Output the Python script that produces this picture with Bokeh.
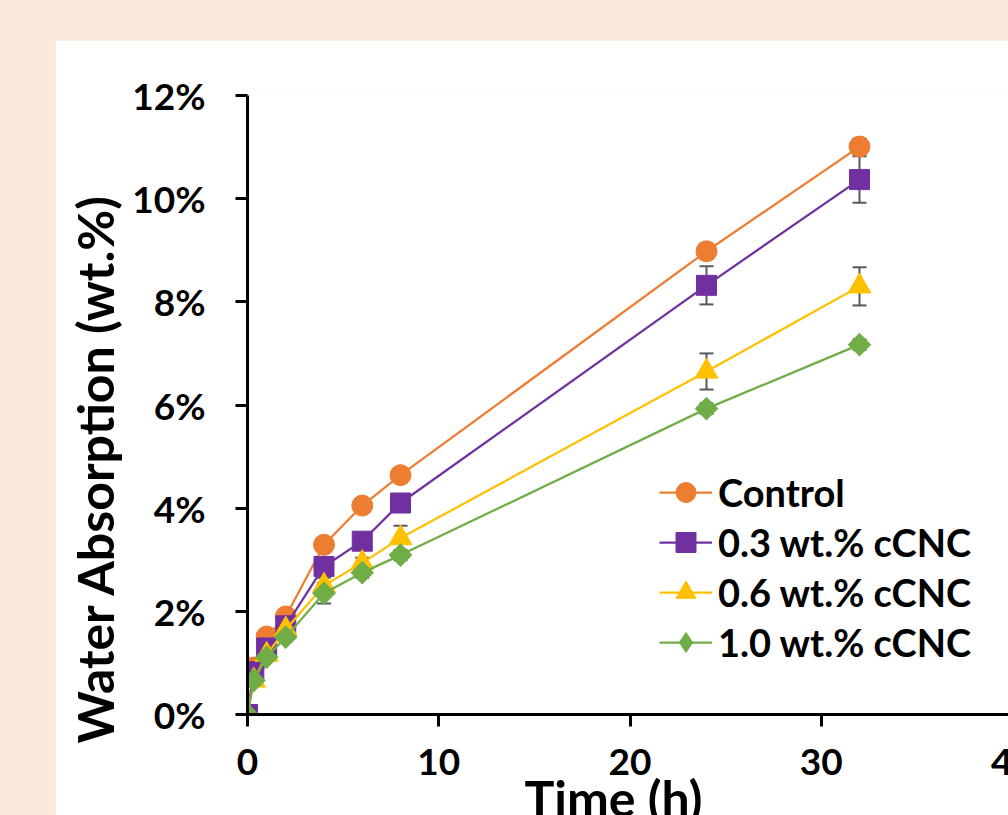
import numpy as np
from bokeh.plotting import figure
from bokeh.models import (Range1d, FixedTicker, PrintfTickFormatter, Legend, LegendItem,
                          Whisker, TeeHead, ColumnDataSource, Title)
from bokeh.layouts import column
from bokeh.embed import file_html
from bokeh.resources import INLINE

# ---------------- data ----------------
time_h = [0, 0.33, 1, 2, 4, 6, 8, 24, 32]
control = [0, 0.91, 1.51, 1.90, 3.29, 4.05, 4.64, 8.98, 11.01]
cnc03 = [0, 0.83, 1.29, 1.72, 2.87, 3.36, 4.10, 8.32, 10.37]
cnc06 = [0, 0.66, 1.16, 1.65, 2.50, 2.94, 3.42, 6.65, 8.30]
cnc10 = [0, 0.66, 1.11, 1.50, 2.35, 2.75, 3.09, 5.93, 7.17]
err_control = [0, 0.05, 0.05, 0.08, 0.10, 0.10, 0.10, 0.15, 0.15]
err_03 = [0, 0.05, 0.05, 0.08, 0.10, 0.10, 0.10, 0.37, 0.45]
err_06 = [0, 0.05, 0.05, 0.08, 0.15, 0.10, 0.24, 0.35, 0.37]
err_10 = [0, 0.05, 0.05, 0.08, 0.20, 0.10, 0.10, 0.10, 0.10]
series_labels = ["Control", "0.3 wt.% cCNC", "0.6 wt.% cCNC", "1.0 wt.% cCNC"]
x_ticks = [0, 10, 20, 30, 40]
y_ticks = [0, 2, 4, 6, 8, 10, 12]
x_title = "Time (h)"
y_title = "Water Absorption (wt.%)"

# ---------------- style ----------------
BG = "#FAE8DA"
COLORS = ["#ED7D31", "#7030A0", "#FFC000", "#70AD47"]
ERR_COLOR = "#595959"
FONT = "Lato"

p = figure(width=997, height=805, x_range=Range1d(0, 40), y_range=Range1d(0, 12),
           output_backend="svg", toolbar_location=None,
           min_border_left=192, min_border_right=40, min_border_top=55, min_border_bottom=131)
p.margin = (40, 0, 0, 55)
p.outline_line_color = None
p.background_fill_color = "white"
p.border_fill_color = "white"
p.xgrid.visible = False
p.ygrid.visible = False

p.xaxis.ticker = FixedTicker(ticks=x_ticks, minor_ticks=[])
p.yaxis.ticker = FixedTicker(ticks=y_ticks, minor_ticks=[])
p.yaxis.formatter = PrintfTickFormatter(format="%d%%")
for ax in (p.xaxis, p.yaxis):
    ax.axis_line_width = 3
    ax.axis_line_color = "black"
    ax.major_tick_line_width = 3
    ax.major_tick_line_color = "black"
    ax.major_tick_out = 12
    ax.major_tick_in = 0
    ax.minor_tick_out = 0
    ax.minor_tick_in = 0
    ax.major_label_text_font = FONT
    ax.major_label_text_font_style = "bold"
    ax.major_label_text_font_size = "37px"
    ax.major_label_text_color = "black"
p.yaxis.major_label_standoff = 30
p.xaxis.major_label_standoff = 22

# axis titles as side titles so they can be offset like in the original
p.add_layout(Title(text=y_title, align="left", offset=-29, text_font=FONT,
                   text_font_style="bold", text_font_size="50px", text_color="black",
                   standoff=10), "left")
p.add_layout(Title(text=x_title, align="left", offset=277, vertical_align="top",
                   text_font=FONT, text_font_style="bold", text_font_size="50px",
                   text_color="black", standoff=-19), "below")

all_vals = [control, cnc03, cnc06, cnc10]
all_errs = [err_control, err_03, err_06, err_10]
markers = [("circle", 21, 0.0), ("square", 20, 0.0), ("triangle", 23, 0.0), ("square", 16, np.pi / 4)]

# error bars (underlay)
for vals, errs in zip(all_vals, all_errs):
    idx = [i for i, e in enumerate(errs) if e > 0]
    src = ColumnDataSource(dict(
        t=[time_h[i] for i in idx],
        up=[vals[i] + errs[i] for i in idx],
        lo=[vals[i] - errs[i] for i in idx]))
    w = Whisker(base="t", upper="up", lower="lo", source=src, dimension="height",
                line_color=ERR_COLOR, line_width=2,
                upper_head=TeeHead(size=14, line_color=ERR_COLOR, line_width=2),
                lower_head=TeeHead(size=14, line_color=ERR_COLOR, line_width=2))
    p.add_layout(w)

items = []
for vals, col, (mk, sz, ang), lab in zip(all_vals, COLORS, markers, series_labels):
    lr = p.line(time_h, vals, line_color=col, line_width=2.25)
    if ang != 0.0:
        # legend swatches are drawn unrotated: a diamond, hidden under the rotated squares
        sr_leg = p.scatter(time_h, vals, marker="diamond", size=22, fill_color=col, line_color=col)
    sr = p.scatter(time_h, vals, marker=mk, size=sz, angle=ang,
                   fill_color=col, line_color=col, line_width=1)
    items.append(LegendItem(label=lab, renderers=[lr, sr_leg if ang != 0.0 else sr]))

leg = Legend(items=items, location=(412, 47), glyph_height=50, label_height=50, glyph_width=53,
             label_text_font=FONT, label_text_font_style="bold", label_text_font_size="38px",
             label_text_color="black", spacing=0, padding=0, margin=0,
             border_line_color=None, background_fill_alpha=0, label_standoff=6)
p.add_layout(leg, "center")

layout = column(p, width=1008, height=815,
                styles={"background-color": BG, "overflow": "hidden"})
open("out.html", "w").write(file_html(layout, INLINE, "Water absorption"))
